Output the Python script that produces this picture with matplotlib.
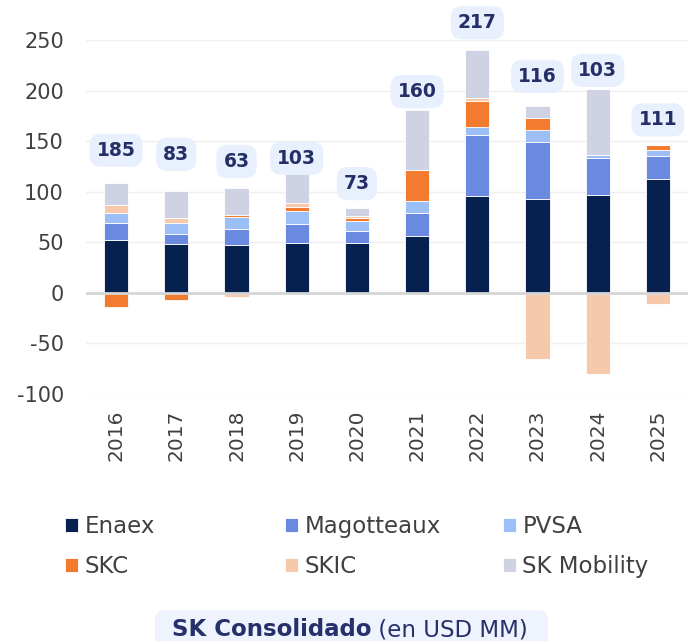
import matplotlib
matplotlib.use("Agg")
import matplotlib.pyplot as plt
import numpy as np
from matplotlib.patches import FancyBboxPatch

years = ["2016", "2017", "2018", "2019", "2020", "2021", "2022", "2023", "2024", "2025"]
enaex = [52, 48, 47, 49, 49, 56, 96, 93, 97, 113]
magotteaux = [17, 10, 16, 19, 12, 23, 60, 56, 36, 22]
pvsa = [10, 11, 12, 13, 10, 12, 8, 12, 3, 6]
skc = [-14, -7, 2, 4, 3, 30, 26, 12, 0, 5]
skic = [8, 5, -4, 4, 2, 0, 3, -65, -80, -11]
sk_mobility = [22, 27, 27, 31, 8, 60, 47, 12, 66, 0]
totals = [185, 83, 63, 103, 73, 160, 217, 116, 103, 111]
total_label_y = [141, 137, 130, 133, 108, 199, 267, 214, 220, 171]

series = [
    ("Enaex", enaex, "#06204f"),
    ("Magotteaux", magotteaux, "#6a89e0"),
    ("PVSA", pvsa, "#9dbff8"),
    ("SKC", skc, "#f27b2f"),
    ("SKIC", skic, "#f7c9ab"),
    ("SK Mobility", sk_mobility, "#cfd2e2"),
]

plt.rcParams["font.family"] = ["DejaVu Sans"]
plt.rcParams["axes.unicode_minus"] = False
fig = plt.figure(figsize=(6.93, 6.41), dpi=100)
ax = fig.add_axes([86 / 693, 1 - 394 / 641, 602 / 693, 354 / 641])

x = np.arange(len(years))
pos_bottom = np.zeros(len(years))
neg_bottom = np.zeros(len(years))
handles = []
for name, vals, color in series:
    v = np.array(vals, dtype=float)
    bottoms = np.where(v >= 0, pos_bottom, neg_bottom)
    bc = ax.bar(x, v, width=0.4, bottom=bottoms, color=color, edgecolor="white",
                linewidth=0.6, label=name, zorder=3)
    handles.append(bc)
    pos_bottom = pos_bottom + np.where(v > 0, v, 0)
    neg_bottom = neg_bottom + np.where(v < 0, v, 0)

ax.set_xlim(-0.5, len(years) - 0.5)
ax.set_ylim(-100, 250)
ax.set_yticks([-100, -50, 0, 50, 100, 150, 200, 250])
ax.set_xticks(x)
ax.set_xticklabels(years, rotation=90)
ax.tick_params(axis="y", length=0, pad=16, labelsize=15, labelcolor="#404040")
ax.tick_params(axis="x", length=0, pad=11, labelsize=14.5, labelcolor="#404040")
for s in ax.spines.values():
    s.set_visible(False)
ax.yaxis.grid(True, color="#efefef", linewidth=1, zorder=0)
ax.axhline(0, color="#d6d6d6", linewidth=2, zorder=4)

for i, (t, yl) in enumerate(zip(totals, total_label_y)):
    ax.text(i, yl, str(t), ha="center", va="center", fontsize=13.5, fontweight="bold",
            color="#232f66", clip_on=False, zorder=5,
            bbox=dict(boxstyle="round,pad=0.38,rounding_size=0.6", fc="#e9f0fd", ec="none"))

# legend, three columns
col_x = [65 / 693, 285 / 693, 503 / 693]
for c in range(3):
    hs = [handles[c], handles[c + 3]]
    ls = [series[c][0], series[c + 3][0]]
    leg = fig.legend(hs, ls, loc="center left", bbox_to_anchor=(col_x[c], 1 - 546.5 / 641),
                     frameon=False, fontsize=16.5, handlelength=0.55, handleheight=0.55,
                     handletextpad=0.3, labelspacing=0.75, borderpad=0, borderaxespad=0)
    for txt in leg.get_texts():
        txt.set_color("#404040")

# title box
ty = 1 - 630 / 641
t1 = fig.text(0.5, ty, "SK Consolidado", ha="right", va="center",
              fontsize=16.5, fontweight="bold", color="#26306a")
t2 = fig.text(0.5, ty, " (en USD MM)", ha="left", va="center",
              fontsize=16.5, color="#26306a")
fig.canvas.draw()
r = fig.canvas.get_renderer()
w1 = t1.get_window_extent(r).width
w2 = t2.get_window_extent(r).width
total_w = w1 + w2
cx = 350
t1.set_position(((cx - total_w / 2 + w1) / 693, ty))
t2.set_position(((cx - total_w / 2 + w1) / 693, ty))
box = FancyBboxPatch((155 / 693, -0.02), (548 - 155) / 693, (641 - 610) / 641 + 0.02,
                     boxstyle="round,pad=0,rounding_size=0.015", transform=fig.transFigure,
                     fc="#eef3fd", ec="none", zorder=0)
fig.patches.append(box)

fig.savefig("out.png", dpi=100)
